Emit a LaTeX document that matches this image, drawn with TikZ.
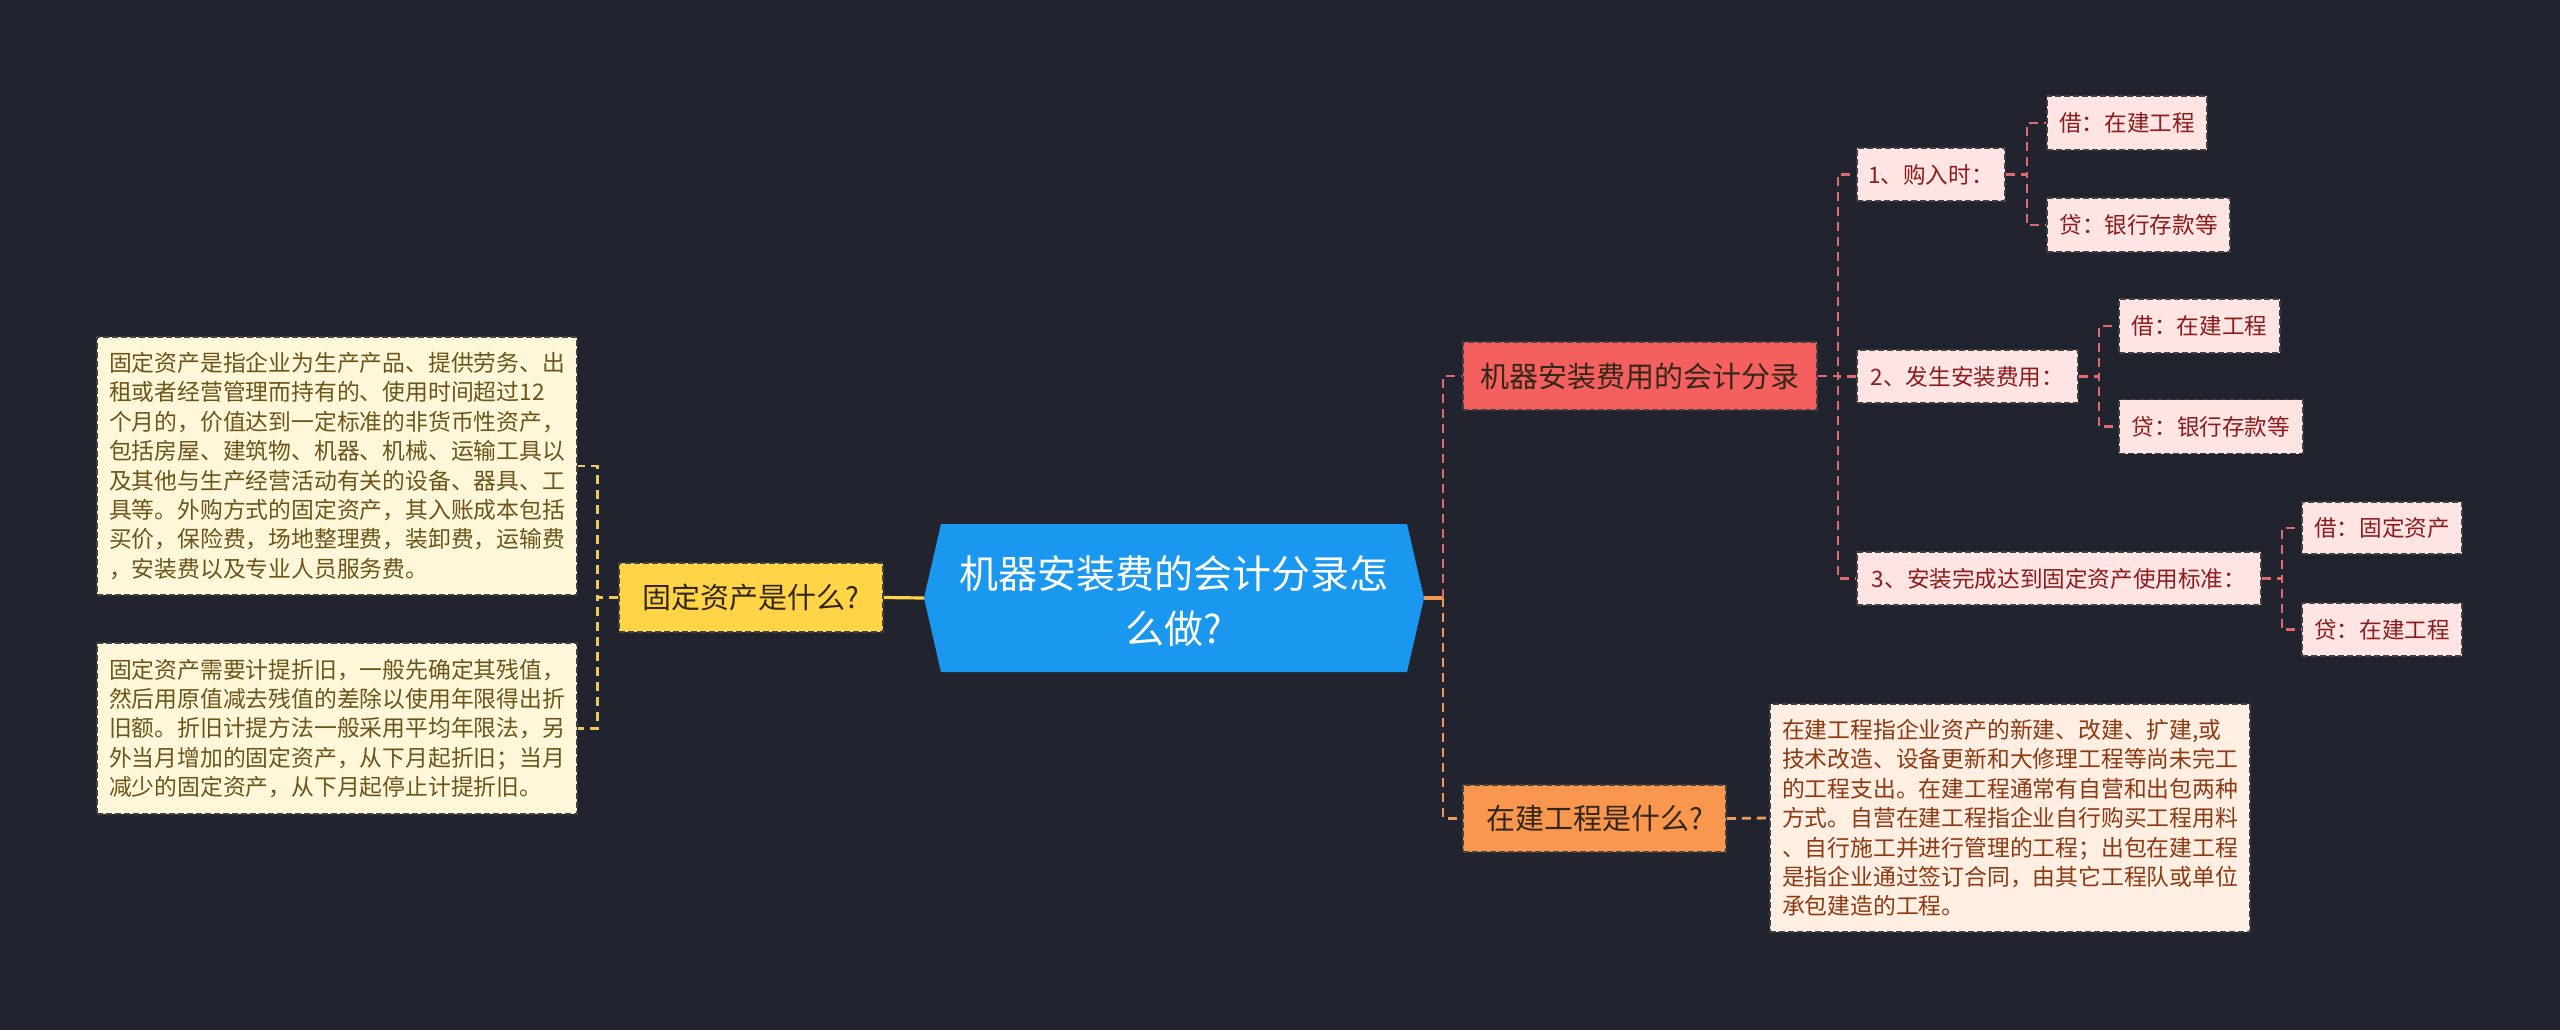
\documentclass[tikz,border=0pt]{standalone}
\usepackage{fontspec}
\setmainfont{Noto Sans CJK SC}
\definecolor{bg}{HTML}{21242F}
\definecolor{cblue}{HTML}{1A98EF}
\definecolor{yfill}{HTML}{FFD447}
\definecolor{lyfill}{HTML}{FFF7D9}
\definecolor{lytext}{HTML}{6B561A}
\definecolor{rfill}{HTML}{F4605E}
\definecolor{pfill}{HTML}{FFE4E4}
\definecolor{ptext}{HTML}{8B1C1C}
\definecolor{ofill}{HTML}{F9974F}
\definecolor{lofill}{HTML}{FFEFE3}
\definecolor{lotext}{HTML}{8B3A12}
\definecolor{yline}{HTML}{F0C85A}
\definecolor{rline}{HTML}{E26A6E}
\definecolor{oline}{HTML}{F09A5A}
\definecolor{darktext}{HTML}{33261A}
\begin{document}
\begin{tikzpicture}[x=0.5pt,y=-0.5pt,
  box/.style={draw=black!75, line width=0.9pt, dash pattern=on 3pt off 1.5pt, inner sep=0pt, align=center},
  topic/.style={box, text=darktext, font=\fontsize{14.5}{17}\selectfont},
  sub/.style={box, fill=pfill, text=ptext, font=\fontsize{11.3}{13}\selectfont, minimum height=26.5pt},
  note/.style={box, align=left, font=\fontsize{11.4}{14.7}\selectfont},
  conn/.style={line width=1.4pt, dash pattern=on 4.5pt off 3pt},
  yconn/.style={conn, draw=yline},
  rconn/.style={conn, draw=rline},
  oconn/.style={conn, draw=oline}
]
\useasboundingbox (0,0) rectangle (2560,1030);
\fill[bg] (0,0) rectangle (2560,1030);

% central hexagon
\coordinate (hNW) at (941,524);
\coordinate (hNE) at (1407,524);
\coordinate (hE) at (1424,598);
\coordinate (hSE) at (1407,672);
\coordinate (hSW) at (941,672);
\coordinate (hW) at (924,598);
\fill[cblue] (hNW) -- (hNE) -- (hE) -- (hSE) -- (hSW) -- (hW) -- cycle;
\node[text=white, align=center, font=\fontsize{19.5}{27.5}\selectfont] (c) at (1174,601) {机器安装费的会计分录怎\\么做?};

% left branch
\node[topic, fill=yfill, minimum width=132pt, minimum height=34.5pt] (q1) at (751,597.5) {固定资产是什么?};
\node[note, fill=lyfill, text=lytext, minimum width=240pt, minimum height=129pt] (n1) at (337,466) {固定资产是指企业为生产产品、提供劳务、出\\租或者经营管理而持有的、使用时间超过12\\个月的，价值达到一定标准的非货币性资产，\\包括房屋、建筑物、机器、机械、运输工具以\\及其他与生产经营活动有关的设备、器具、工\\具等。外购方式的固定资产，其入账成本包括\\买价，保险费，场地整理费，装卸费，运输费\\，安装费以及专业人员服务费。};
\node[note, fill=lyfill, text=lytext, minimum width=240pt, minimum height=85.5pt] (n2) at (337,728.5) {固定资产需要计提折旧，一般先确定其残值，\\然后用原值减去残值的差除以使用年限得出折\\旧额。折旧计提方法一般采用平均年限法，另\\外当月增加的固定资产，从下月起折旧；当月\\减少的固定资产，从下月起停止计提折旧。};

\draw[yfill, line width=1.6pt] (hW) -- (q1.east);
\draw[yconn] (q1.west) -- ++(-21,0) |- (n1.east);
\draw[yconn] (q1.west) -- ++(-21,0) |- (n2.east);

% right branch
\node[topic, fill=rfill, minimum width=177pt, minimum height=34pt] (q2) at (1640,376) {机器安装费用的会计分录};
\node[topic, fill=ofill, minimum width=131.5pt, minimum height=33.5pt] (q3) at (1594.5,818.5) {在建工程是什么?};
\node[note, fill=lofill, text=lotext, minimum width=240pt, minimum height=114pt] (n3) at (2010,818) {在建工程指企业资产的新建、改建、扩建,或\\技术改造、设备更新和大修理工程等尚未完工\\的工程支出。在建工程通常有自营和出包两种\\方式。自营在建工程指企业自行购买工程用料\\、自行施工并进行管理的工程；出包在建工程\\是指企业通过签订合同，由其它工程队或单位\\承包建造的工程。};

\coordinate (jR) at (1443,598);
\draw[oline, line width=1.6pt] (hE) -- (jR);
\draw[rconn] (jR) |- (q2.west);
\draw[oconn] (jR) |- (q3.west);
\draw[oconn] (q3.east) -- (n3.west);

% sub nodes
\node[sub, minimum width=74pt] (s1) at (1931,174.5) {1、购入时：};
\node[sub, minimum width=110.5pt] (s2) at (1967.5,376.5) {2、发生安装费用：};
\node[sub, minimum width=202pt] (s3) at (2059,578.5) {3、安装完成达到固定资产使用标准：};

\draw[rconn] (q2.east) -- ++(20,0) |- (s1.west);
\draw[rconn] (q2.east) -- ++(20,0) |- (s2.west);
\draw[rconn] (q2.east) -- ++(20,0) |- (s3.west);

% leaves
\node[sub, minimum width=80pt, minimum height=27pt] (l1a) at (2127,123) {借：在建工程};
\node[sub, minimum width=91.5pt, minimum height=27pt] (l1b) at (2138.5,225) {贷：银行存款等};
\node[sub, minimum width=80.5pt, minimum height=27pt] (l2a) at (2199.5,326) {借：在建工程};
\node[sub, minimum width=92pt, minimum height=27pt] (l2b) at (2211,426.5) {贷：银行存款等};
\node[sub, minimum width=80pt, minimum height=26pt] (l3a) at (2382,528) {借：固定资产};
\node[sub, minimum width=80pt, minimum height=26.5pt] (l3b) at (2382,629.5) {贷：在建工程};

\draw[rconn] (s1.east) -- ++(21,0) |- (l1a.west);
\draw[rconn] (s1.east) -- ++(21,0) |- (l1b.west);
\draw[rconn] (s2.east) -- ++(20,0) |- (l2a.west);
\draw[rconn] (s2.east) -- ++(20,0) |- (l2b.west);
\draw[rconn] (s3.east) -- ++(20,0) |- (l3a.west);
\draw[rconn] (s3.east) -- ++(20,0) |- (l3b.west);
\end{tikzpicture}
\end{document}
